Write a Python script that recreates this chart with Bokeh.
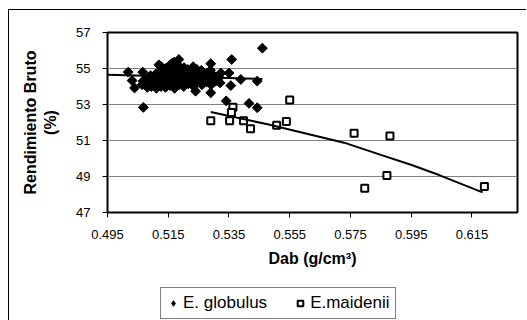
import numpy as np
from bokeh.plotting import figure
from bokeh.layouts import column
from bokeh.models import Range1d, FixedTicker, NumeralTickFormatter, Legend, LegendItem
from bokeh.embed import file_html
from bokeh.resources import INLINE

# ---- data ----
glob_x = [0.5018, 0.5066, 0.5031, 0.5039, 0.5068, 0.5086, 0.5119, 0.5163, 0.5185, 0.5290,
          0.5359, 0.5460, 0.5350, 0.5389, 0.5443, 0.5356, 0.5290, 0.5341, 0.5416, 0.5443,
          0.5240,
          0.5064, 0.5067,
          0.5081, 0.5078, 0.5083,
          0.5094, 0.5097, 0.5092,
          0.5111, 0.5108, 0.5113, 0.5109,
          0.5126, 0.5123, 0.5128, 0.5124, 0.5127,
          0.5141, 0.5138, 0.5143, 0.5139, 0.5142,
          0.5156, 0.5153, 0.5158, 0.5154, 0.5157,
          0.5171, 0.5168, 0.5173, 0.5169, 0.5172, 0.5170,
          0.5186, 0.5183, 0.5188, 0.5184, 0.5187,
          0.5201, 0.5198, 0.5203, 0.5199, 0.5202,
          0.5216, 0.5213, 0.5218, 0.5214,
          0.5231, 0.5228, 0.5233, 0.5229, 0.5232,
          0.5246, 0.5243, 0.5248, 0.5244,
          0.5261, 0.5258, 0.5263, 0.5259,
          0.5276, 0.5273, 0.5278,
          0.5291, 0.5288, 0.5293, 0.5289,
          0.5306, 0.5303,
          0.5321, 0.5318, 0.5323]
glob_y = [54.80, 54.80, 54.33, 53.92, 52.84, 54.50, 55.20, 55.30, 55.50, 55.27,
          55.50, 56.13, 54.75, 54.39, 54.30, 54.05, 53.65, 53.20, 53.06, 52.82,
          53.74,
          54.10, 54.30,
          53.95, 54.20, 54.45,
          54.00, 54.25, 54.60,
          53.90, 54.15, 54.40, 54.70,
          54.00, 54.30, 54.55, 54.85, 55.10,
          53.95, 54.20, 54.50, 54.75, 55.00,
          54.05, 54.35, 54.65, 54.90, 55.20,
          53.90, 54.20, 54.45, 54.70, 55.00, 55.35,
          54.10, 54.40, 54.60, 54.85, 55.10,
          54.00, 54.30, 54.55, 54.80, 55.05,
          54.15, 54.45, 54.70, 54.95,
          54.05, 54.35, 54.60, 54.85, 55.10,
          54.20, 54.50, 54.75, 54.95,
          54.10, 54.40, 54.65, 54.90,
          54.25, 54.50, 54.75,
          54.10, 54.40, 54.65, 54.90,
          54.30, 54.55,
          54.20, 54.50, 54.75]

maid_x = [0.5290, 0.5352, 0.5363, 0.5358, 0.5398, 0.5421, 0.5507, 0.5539, 0.5550,
          0.5762, 0.5880, 0.5870, 0.5797, 0.6191]
maid_y = [52.10, 52.10, 52.85, 52.55, 52.10, 51.65, 51.85, 52.05, 53.25,
          51.40, 51.25, 49.05, 48.35, 48.45]

# trend lines
trend_glob_x = [0.495, 0.546]
trend_glob_y = [54.65, 54.42]
trend_maid_x = [0.529, 0.5477, 0.5729, 0.585, 0.5949, 0.6042, 0.6185]
trend_maid_y = [52.58, 51.90, 50.88, 50.20, 49.65, 49.08, 48.12]

series_names = ["E. globulus", "E.maidenii"]
x_ticks = [0.495, 0.515, 0.535, 0.555, 0.575, 0.595, 0.615]
y_ticks = [47, 49, 51, 53, 55, 57]

FONT = "Liberation Sans"

p = figure(frame_width=410, frame_height=180,
           min_border_left=98, min_border_right=9, min_border_top=22, min_border_bottom=75,
           x_range=Range1d(0.495, 0.630), y_range=Range1d(47, 57),
           output_backend="svg", toolbar_location=None)

p.outline_line_color = "black"
p.outline_line_width = 2
p.background_fill_color = "white"
p.border_fill_color = "white"

p.xgrid.visible = False
p.ygrid.ticker = FixedTicker(ticks=y_ticks)
p.ygrid.grid_line_color = "#808080"
p.ygrid.grid_line_width = 1

p.xaxis.ticker = FixedTicker(ticks=x_ticks)
p.yaxis.ticker = FixedTicker(ticks=y_ticks)
p.xaxis.formatter = NumeralTickFormatter(format="0.000")
p.yaxis.formatter = NumeralTickFormatter(format="0")

for ax in (p.xaxis, p.yaxis):
    ax.major_tick_in = 0
    ax.major_tick_out = 5
    ax.minor_tick_line_color = None
    ax.major_tick_line_color = "black"
    ax.axis_line_color = "black"
    ax.major_label_text_font = FONT
    ax.major_label_text_font_size = "13px"
    ax.major_label_text_color = "black"
    ax.axis_label_text_font = FONT
    ax.axis_label_text_font_size = "16px"
    ax.axis_label_text_font_style = "bold"
    ax.axis_label_text_color = "black"

p.xaxis.major_label_standoff = 12
p.yaxis.major_label_standoff = 12
p.xaxis.axis_label = "Dab (g/cm³)"
p.xaxis.axis_label_standoff = 8
p.yaxis.axis_label = "Rendimiento Bruto\n(%)"
p.yaxis.axis_label_standoff = 14

glob_style = dict(marker="square", angle=np.pi / 4, size=7,
                  fill_color="black", line_color="black")
maid_style = dict(marker="square", size=7,
                  fill_color="white", line_color="black", line_width=2)

p.scatter(glob_x, glob_y, **glob_style)
p.scatter(maid_x, maid_y, **maid_style)
p.line(trend_glob_x, trend_glob_y, line_color="black", line_width=2)
p.line(trend_maid_x, trend_maid_y, line_color="black", line_width=2)

# legend strip below the chart (same borders as the chart so the frames align)
lf = figure(frame_width=410, frame_height=33,
            min_border_left=98, min_border_right=9, min_border_top=0, min_border_bottom=0,
            x_range=Range1d(0, 1), y_range=Range1d(0, 1),
            x_axis_type=None, y_axis_type=None,
            output_backend="svg", toolbar_location=None)
lf.outline_line_color = None
lf.xgrid.visible = False
lf.ygrid.visible = False
lf.background_fill_color = "white"
lf.border_fill_color = "white"
# same series, outside this strip's ranges, only to feed the legend glyphs
lr1 = lf.scatter(glob_x, glob_y, marker="diamond", size=10,
                 fill_color="black", line_color="black")
lr2 = lf.scatter(maid_x, maid_y, **maid_style)

legend = Legend(items=[LegendItem(label=series_names[0], renderers=[lr1]),
                       LegendItem(label=series_names[1], renderers=[lr2])],
                orientation="horizontal", location=(53, 1))
legend.label_text_font = FONT
legend.label_text_font_size = "17px"
legend.label_text_color = "black"
legend.border_line_color = "black"
legend.border_line_width = 1
legend.background_fill_color = "white"
legend.background_fill_alpha = 1
legend.padding = 5
legend.spacing = 26
legend.glyph_width = 14
legend.glyph_height = 16
legend.label_standoff = 3
legend.margin = 0
lf.add_layout(legend, "center")

layout = column(p, lf, spacing=0)
layout.styles = {"margin-left": "8px", "margin-top": "9px",
                 "border-left": "1px solid black", "border-top": "1px solid black"}

open("out.html", "w").write(file_html(layout, INLINE))
